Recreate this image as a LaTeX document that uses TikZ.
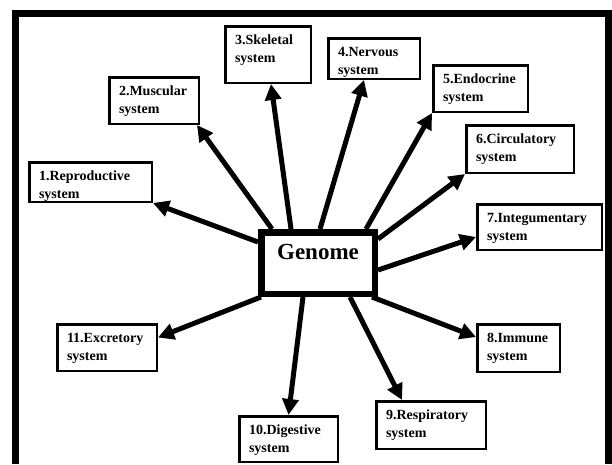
\documentclass[tikz,border=0pt]{standalone}
\usepackage{fontspec}
\setmainfont{Liberation Serif}
\usetikzlibrary{arrows.meta}

\begin{document}
\begin{tikzpicture}[
    x=1pt, y=-1pt,
    sysbox/.style={rectangle, draw=black, line width=2.5pt, anchor=north west,
                   align=left, inner xsep=9.75pt, inner ysep=8pt, text height=10.5pt,
                   font=\fontsize{14}{18}\selectfont\bfseries},
    core/.style={rectangle, draw=black, line width=6.5pt, anchor=north west,
                 inner sep=0pt, minimum width=113.5pt, minimum height=61.5pt,
                 text height=18.5pt, text depth=26.5pt,
                 font=\fontsize{23}{27}\selectfont\bfseries},
    arrow/.style={-{Triangle[length=16pt, width=16pt]}, line width=5pt}
]
    \useasboundingbox (0,0) rectangle (612,464);
    \draw[line width=7pt] (15.5,464) -- (15.5,13.5) -- (608.5,13.5) -- (608.5,464);

    \node[core] (genome) at (258,229) {Genome};
    \node[sysbox, text width=103pt, text depth=13pt] (reproductive) at (28,161) {1.Reproductive\\system};
    \node[sysbox, text width=70pt, text depth=20pt] (muscular) at (108,76) {2.Muscular\\system};
    \node[sysbox, text width=66pt, text depth=30pt] (skeletal) at (224,25) {3.Skeletal\\system};
    \node[sysbox, text width=72pt, text depth=14pt] (nervous) at (327,37) {4.Nervous\\system};
    \node[sysbox, text width=75pt, text depth=20pt] (endocrine) at (432,64) {5.Endocrine\\system};
    \node[sysbox, text width=88pt, text depth=21pt] (circulatory) at (465,124) {6.Circulatory\\system};
    \node[sysbox, text width=105pt, text depth=19pt] (integumentary) at (476,203) {7.Integumentary\\system};
    \node[sysbox, text width=63pt, text depth=21pt] (immune) at (476,323) {8.Immune\\system};
    \node[sysbox, text width=90pt, text depth=21pt] (respiratory) at (375,400) {9.Respiratory\\system};
    \node[sysbox, text width=79pt, text depth=19pt] (digestive) at (238,415) {10.Digestive\\system};
    \node[sysbox, text width=80pt, text depth=20pt] (excretory) at (56,323) {11.Excretory\\system};

    \draw[arrow] ([yshift=-13pt]genome.north west) -- (reproductive.south east);
    \draw[arrow] ([xshift=14pt]genome.north west) -- ([xshift=-3pt]muscular.south east);
    \draw[arrow] ([xshift=33pt]genome.north west) -- ([xshift=3pt]skeletal.south);
    \draw[arrow] ([xshift=62pt]genome.north west) -- ([xshift=-10pt]nervous.south);
    \draw[arrow] ([xshift=-12pt]genome.north east) -- (endocrine.south west);
    \draw[arrow] ([yshift=-10pt]genome.north east) -- (circulatory.south west);
    \draw[arrow] ([yshift=-41pt]genome.north east) -- ([yshift=-10pt]integumentary.west);
    \draw[arrow] ([xshift=-6pt]genome.south east) -- ([yshift=11pt]immune.west);
    \draw[arrow] ([xshift=-28pt]genome.south east) -- ([xshift=27pt]respiratory.north west);
    \draw[arrow] ([xshift=45pt]genome.south west) -- (digestive.north);
    \draw[arrow] ([xshift=3pt]genome.south west) -- ([yshift=10pt]excretory.east);
\end{tikzpicture}
\end{document}
